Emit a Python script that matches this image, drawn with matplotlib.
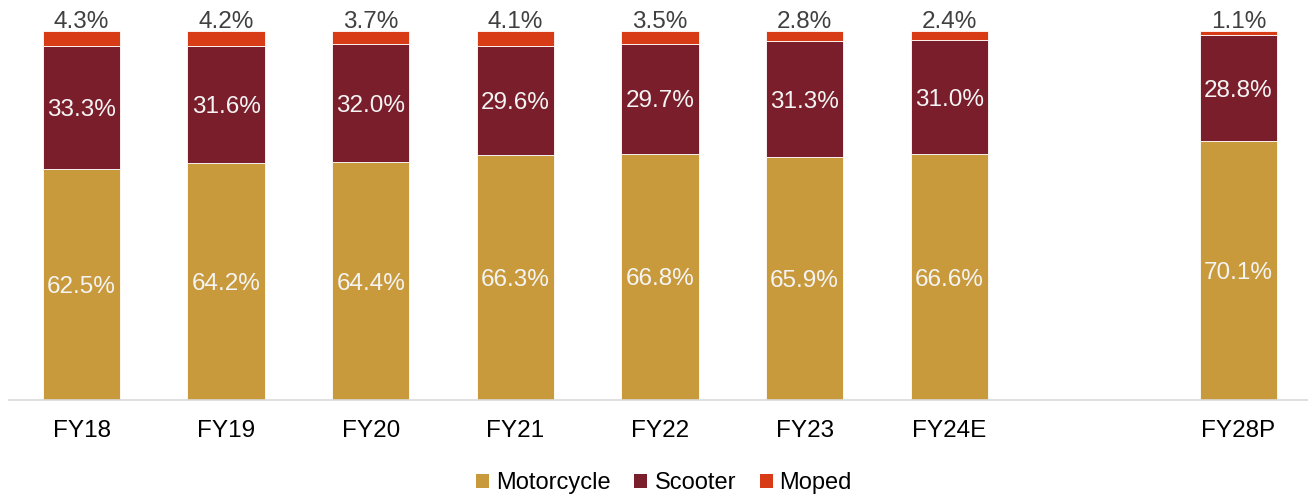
import matplotlib
matplotlib.use("Agg")
import matplotlib.pyplot as plt
from matplotlib.patches import Patch
import numpy as np

plt.rcParams['font.family'] = ['Liberation Sans', 'DejaVu Sans']

categories = ["FY18", "FY19", "FY20", "FY21", "FY22", "FY23", "FY24E", "", "FY28P"]
motorcycle = [62.5, 64.2, 64.4, 66.3, 66.8, 65.9, 66.6, None, 70.1]
scooter = [33.3, 31.6, 32.0, 29.6, 29.7, 31.3, 31.0, None, 28.8]
moped = [4.3, 4.2, 3.7, 4.1, 3.5, 2.8, 2.4, None, 1.1]
series_names = ["Motorcycle", "Scooter", "Moped"]
colors = ["#C89A3C", "#7A1E2B", "#D73C17"]

fig = plt.figure(figsize=(13.08, 4.95), dpi=100)
ax = fig.add_axes([9.2 / 1308, 95 / 495, 1301.6 / 1308, 369 / 495])

x = np.arange(len(categories))
valid = [i for i in range(len(categories)) if motorcycle[i] is not None]
xv = x[valid]
m = np.array([motorcycle[i] for i in valid])
s = np.array([scooter[i] for i in valid])
mp = np.array([moped[i] for i in valid])

w = 0.535
ax.bar(xv, m, w, color=colors[0], edgecolor="white", linewidth=0.6)
ax.bar(xv, s, w, bottom=m, color=colors[1], edgecolor="white", linewidth=0.6)
ax.bar(xv, mp, w, bottom=m + s, color=colors[2], edgecolor="white", linewidth=0.6)

fs = 17.5
for xi, a, b, c in zip(xv, m, s, mp):
    ax.text(xi, a / 2, f"{a:.1f}%", ha="center", va="center_baseline", color="#F4F4F4", fontsize=fs)
    ax.text(xi, a + b / 2, f"{b:.1f}%", ha="center", va="center_baseline", color="#F4F4F4", fontsize=fs)
    ax.text(xi, a + b + c + 0.8, f"{c:.1f}%", ha="center", va="baseline", color="#404040",
            fontsize=fs, clip_on=False)

ax.set_xlim(-0.5, 8.5)
ax.set_ylim(0, 100)
ax.set_xticks(x)
ax.set_xticklabels(categories, fontsize=fs, color="#000000")
ax.tick_params(axis="x", length=0, pad=14.5)
ax.set_yticks([])
for sp in ["top", "right", "left"]:
    ax.spines[sp].set_visible(False)
ax.spines["bottom"].set_color("#D9D9D9")
ax.spines["bottom"].set_linewidth(1.2)

handles = [Patch(facecolor=c, edgecolor="none") for c in colors]
fig.legend(handles, series_names, loc="center", bbox_to_anchor=(664 / 1308, 12 / 495),
           ncol=3, frameon=False, fontsize=17, handlelength=0.55, handleheight=0.55,
           handletextpad=0.3, columnspacing=1.0)

fig.savefig("out.png", dpi=100)
